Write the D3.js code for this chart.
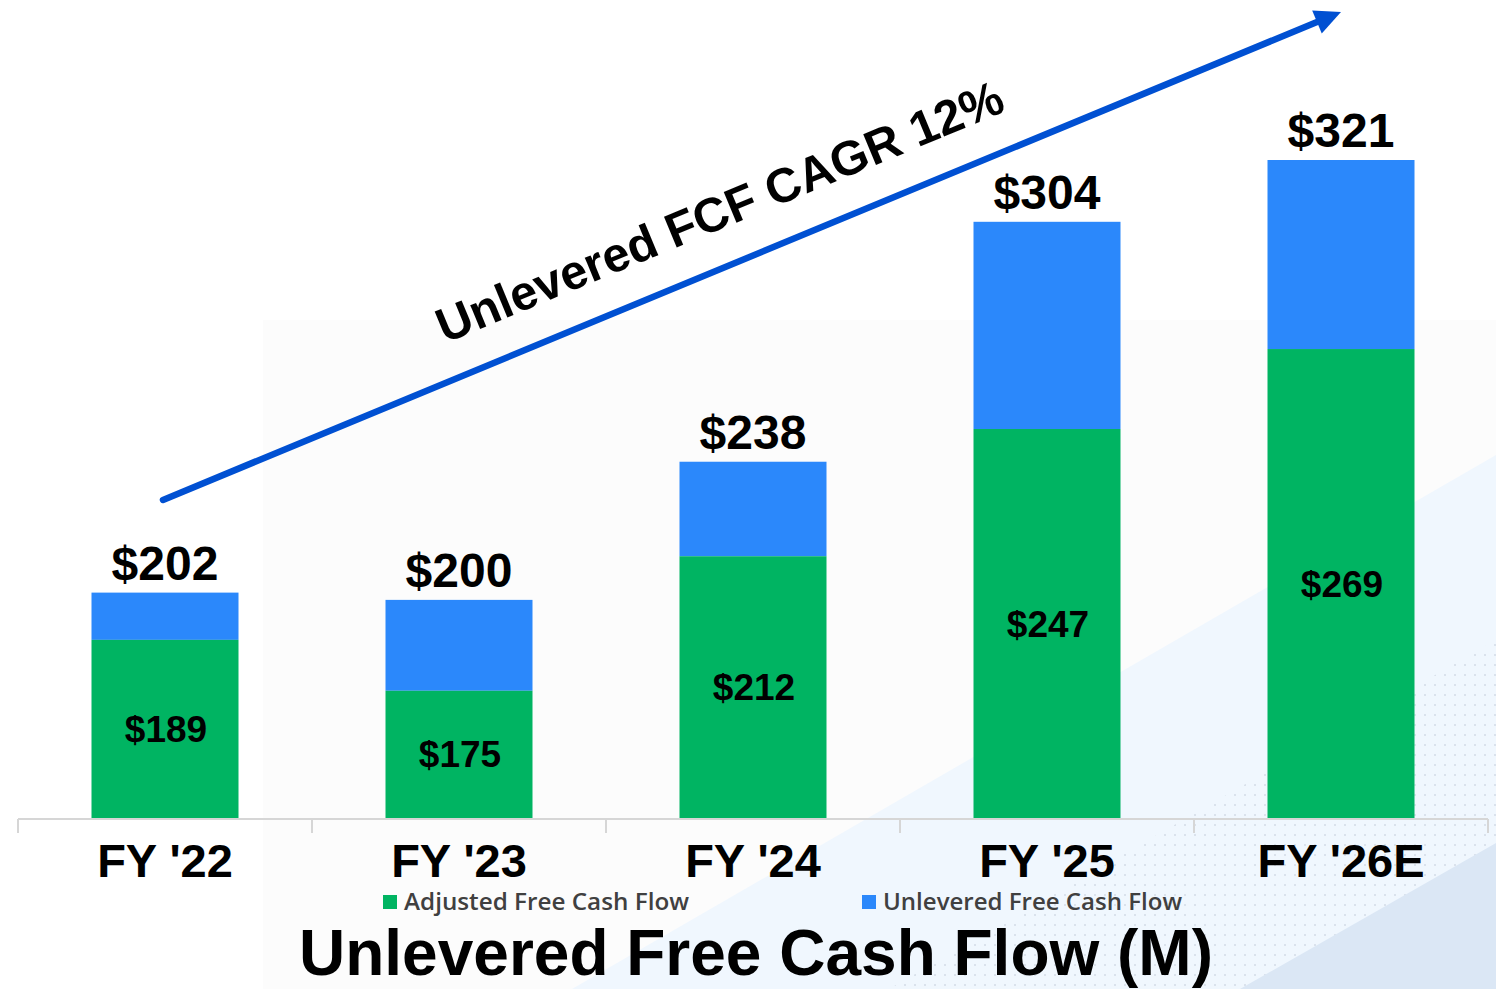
<!DOCTYPE html>
<html lang="en">
<head>
<meta charset="UTF-8">
<title>Unlevered Free Cash Flow</title>
<script src="https://d3js.org/d3.v7.min.js"></script>
<style>
    html, body { margin: 0; padding: 0; background: #fff; }
    svg { display: block; }
    .lbl { font-family: "Liberation Sans", Arial, sans-serif; font-weight: bold; fill: #000; }
    .legend-text { font-family: "Open Sans", sans-serif; font-weight: 600; fill: #404040; font-size: 23px; }
</style>
</head>
<body>
<svg id="chart" width="1496" height="989"></svg>
<script>
// data (millions)
var years = ["FY '22", "FY '23", "FY '24", "FY '25", "FY '26E"];
var adjustedFCF = [189, 175, 212, 247, 269];
var unleveredFCF = [202, 200, 238, 304, 321];
var seriesNames = ["Adjusted Free Cash Flow", "Unlevered Free Cash Flow"];
var seriesColors = ["#00b462", "#2b88fb"];
var cagrText = "Unlevered FCF CAGR 12%";
// arrow annotation, in chart value units
var arrowStart = { year: "FY '22", value: 227.5 };
var arrowEnd = { year: "FY '26E", value: 361.7 };

var W = 1496, H = 989;
var svg = d3.select("#chart");

// ---- background decoration ----
var bg = svg.append("g");
bg.append("rect").attr("x", 263).attr("y", 320).attr("width", W - 263).attr("height", H - 320).attr("fill", "#fcfcfc");
bg.append("polygon").attr("points", "572,989 1496,455 1496,989").attr("fill", "#f0f7fe");

var defs = svg.append("defs");
var pat = defs.append("pattern").attr("id", "dots").attr("patternUnits", "userSpaceOnUse")
    .attr("width", 10).attr("height", 10);
pat.append("circle").attr("cx", 5).attr("cy", 5).attr("r", 1).attr("fill", "#d3dbe6");
bg.append("polygon").attr("points", "1496,640 889,989 1496,989").attr("fill", "url(#dots)");
bg.append("polygon").attr("points", "1240,989 1496,843 1496,989").attr("fill", "#dbe7f5");

// ---- scales ----
var x = d3.scaleBand().domain(years).range([18, 1488]).paddingInner(0.5).paddingOuter(0.25);
var y = d3.scaleLinear().domain([140, 321]).range([818, 160]);

var rows = years.map(function(d, i) {
    return { year: d, adj: adjustedFCF[i], total: unleveredFCF[i] };
});

// ---- bars ----
var bars = svg.append("g");
bars.selectAll(".blue").data(rows).enter().append("rect")
    .attr("x", function(d) { return x(d.year); })
    .attr("y", function(d) { return y(d.total); })
    .attr("width", x.bandwidth())
    .attr("height", function(d) { return y(d.adj) - y(d.total); })
    .attr("fill", seriesColors[1]);
bars.selectAll(".green").data(rows).enter().append("rect")
    .attr("x", function(d) { return x(d.year); })
    .attr("y", function(d) { return y(d.adj); })
    .attr("width", x.bandwidth())
    .attr("height", function(d) { return y(140) - y(d.adj); })
    .attr("fill", seriesColors[0]);

// ---- axis line + boundary ticks ----
var axis = svg.append("g").attr("stroke", "#d6d6d6").attr("stroke-width", 2);
axis.append("line").attr("x1", 18).attr("x2", 1488).attr("y1", 819).attr("y2", 819);
var gap = (x.step() - x.bandwidth()) / 2;
var bounds = years.map(function(d) { return x(d) - gap; }).concat([x(years[years.length - 1]) + x.bandwidth() + gap]);
axis.selectAll(".tk").data(bounds).enter().append("line")
    .attr("x1", function(d) { return d; }).attr("x2", function(d) { return d; })
    .attr("y1", 819).attr("y2", 833);

// ---- labels ----
svg.selectAll(".cat").data(years).enter().append("text")
    .attr("class", "lbl")
    .attr("x", function(d) { return x(d) + x.bandwidth() / 2; })
    .attr("y", 877)
    .attr("text-anchor", "middle")
    .attr("font-size", 47)
    .text(function(d) { return d; });

svg.selectAll(".tot").data(rows).enter().append("text")
    .attr("class", "lbl")
    .attr("x", function(d) { return x(d.year) + x.bandwidth() / 2; })
    .attr("y", function(d) { return y(d.total) - 13; })
    .attr("text-anchor", "middle")
    .attr("font-size", 48)
    .text(function(d) { return "$" + d.total; });

svg.selectAll(".adj").data(rows).enter().append("text")
    .attr("class", "lbl")
    .attr("x", function(d) { return x(d.year) + x.bandwidth() / 2 + 1; })
    .attr("y", function(d) { return (y(d.adj) + y(140)) / 2 + 13; })
    .attr("text-anchor", "middle")
    .attr("font-size", 37)
    .text(function(d) { return "$" + d.adj; });

// ---- legend ----
var legendX = [383, 862];
var legendW = [285, 299];
var leg = svg.selectAll(".leg").data(seriesNames).enter().append("g")
    .attr("transform", function(d, i) { return "translate(" + legendX[i] + ",0)"; });
leg.append("rect").attr("x", 0).attr("y", 895).attr("width", 14).attr("height", 14)
    .attr("fill", function(d, i) { return seriesColors[i]; });
leg.append("text").attr("class", "legend-text").attr("x", 21).attr("y", 910)
    .attr("textLength", function(d, i) { return legendW[i]; })
    .attr("lengthAdjust", "spacingAndGlyphs")
    .text(function(d) { return d; });

// ---- title ----
svg.append("text").attr("class", "lbl")
    .attr("x", 756).attr("y", 975)
    .attr("text-anchor", "middle")
    .attr("font-size", 64)
    .text("Unlevered Free Cash Flow (M)");

// ---- CAGR arrow ----
var ax0 = x(arrowStart.year) + x.bandwidth() / 2 - 2, ay0 = y(arrowStart.value);
var ax1 = x(arrowEnd.year) + x.bandwidth() / 2, ay1 = y(arrowEnd.value);
var ang = Math.atan2(ay1 - ay0, ax1 - ax0);
var headLen = 26, headHalf = 12.5;
var bx = ax1 - headLen * Math.cos(ang), by = ay1 - headLen * Math.sin(ang);
svg.append("line")
    .attr("x1", ax0).attr("y1", ay0).attr("x2", bx + 2 * Math.cos(ang)).attr("y2", by + 2 * Math.sin(ang))
    .attr("stroke", "#0050d2").attr("stroke-width", 6.5).attr("stroke-linecap", "round");
svg.append("polygon")
    .attr("points", [
        [ax1, ay1],
        [bx - headHalf * Math.sin(ang), by + headHalf * Math.cos(ang)],
        [bx + headHalf * Math.sin(ang), by - headHalf * Math.cos(ang)]
    ].map(function(p) { return p.join(","); }).join(" "))
    .attr("fill", "#0050d2");

var deg = ang * 180 / Math.PI;
svg.append("text").attr("class", "lbl")
    .attr("transform", "translate(726,227) rotate(" + deg + ")")
    .attr("text-anchor", "middle")
    .attr("font-size", 48.5)
    .text(cagrText);
</script>
</body>
</html>
